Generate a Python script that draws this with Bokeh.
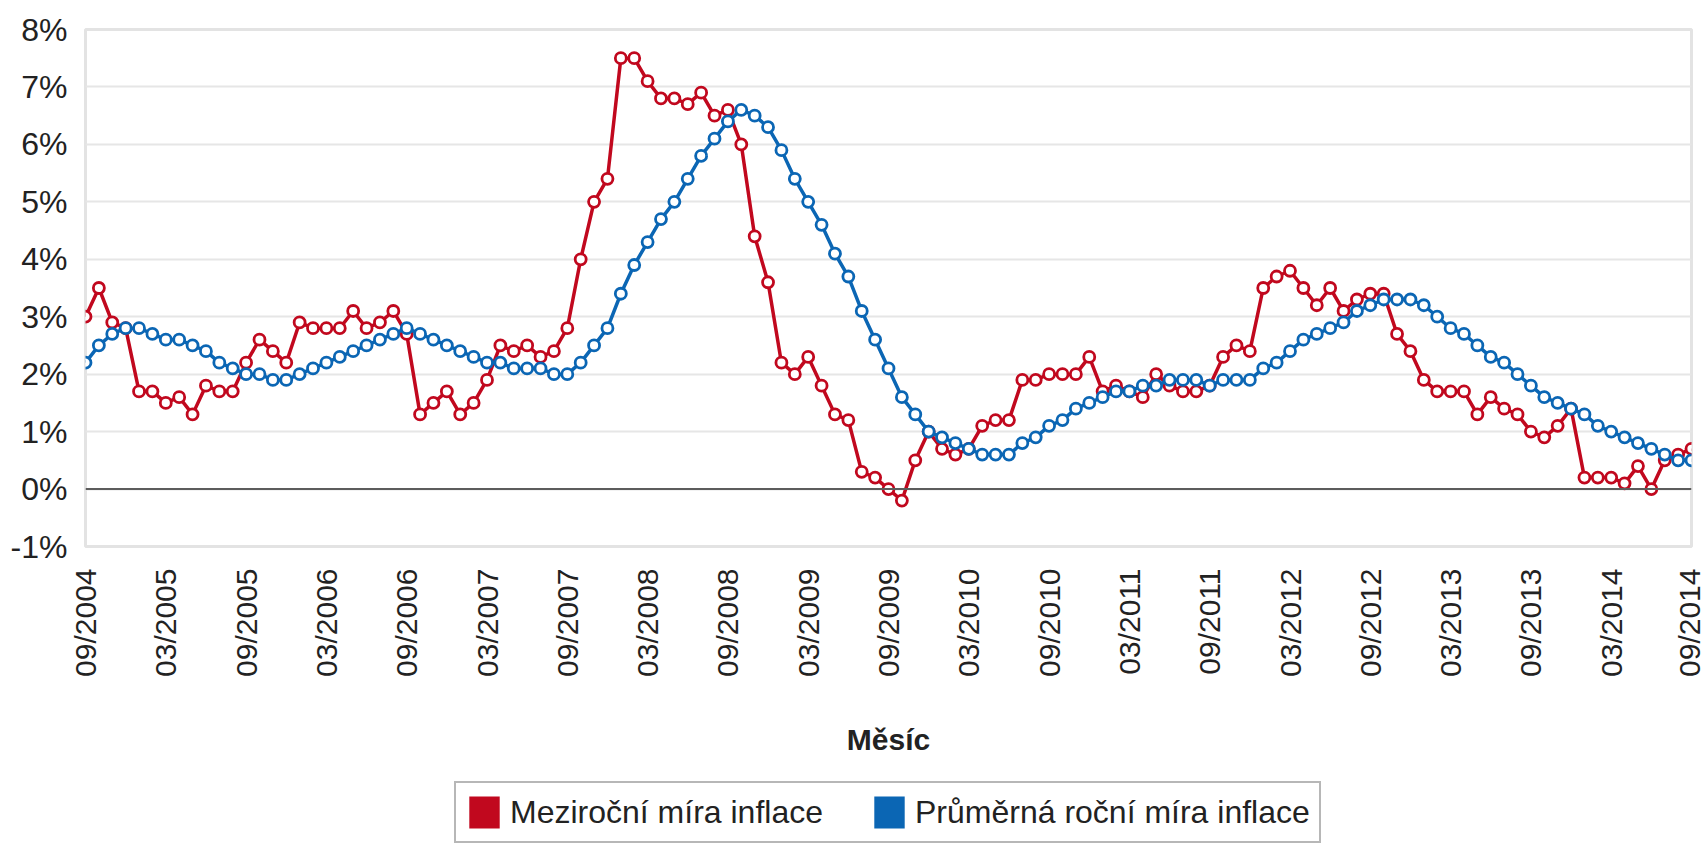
import math
from bokeh.plotting import figure
from bokeh.layouts import column
from bokeh.models import (Range1d, FixedTicker, PrintfTickFormatter, Span,
                          Legend, LegendItem, ColumnDataSource)
from bokeh.embed import file_html
from bokeh.resources import INLINE

# ---- data -------------------------------------------------------------
# monthly categories 09/2004 .. 09/2014
months = [f"{m:02d}/{y}" for y in range(2004, 2015) for m in range(1, 13)
          if (y, m) >= (2004, 9) and (y, m) <= (2014, 9)]

tick_labels = ["09/2004", "03/2005", "09/2005", "03/2006", "09/2006", "03/2007",
               "09/2007", "03/2008", "09/2008", "03/2009", "09/2009", "03/2010",
               "09/2010", "03/2011", "09/2011", "03/2012", "09/2012", "03/2013",
               "09/2013", "03/2014", "09/2014"]

# Meziroční míra inflace (year-on-year), %
yoy = [3.0, 3.5, 2.9, 2.8,
       1.7, 1.7, 1.5, 1.6, 1.3, 1.8, 1.7, 1.7, 2.2, 2.6, 2.4, 2.2,
       2.9, 2.8, 2.8, 2.8, 3.1, 2.8, 2.9, 3.1, 2.7, 1.3, 1.5, 1.7,
       1.3, 1.5, 1.9, 2.5, 2.4, 2.5, 2.3, 2.4, 2.8, 4.0, 5.0, 5.4,
       7.5, 7.5, 7.1, 6.8, 6.8, 6.7, 6.9, 6.5, 6.6, 6.0, 4.4, 3.6,
       2.2, 2.0, 2.3, 1.8, 1.3, 1.2, 0.3, 0.2, 0.0, -0.2, 0.5, 1.0,
       0.7, 0.6, 0.7, 1.1, 1.2, 1.2, 1.9, 1.9, 2.0, 2.0, 2.0, 2.3,
       1.7, 1.8, 1.7, 1.6, 2.0, 1.8, 1.7, 1.7, 1.8, 2.3, 2.5, 2.4,
       3.5, 3.7, 3.8, 3.5, 3.2, 3.5, 3.1, 3.3, 3.4, 3.4, 2.7, 2.4,
       1.9, 1.7, 1.7, 1.7, 1.3, 1.6, 1.4, 1.3, 1.0, 0.9, 1.1, 1.4,
       0.2, 0.2, 0.2, 0.1, 0.4, 0.0, 0.5, 0.6, 0.7]

# Průměrná roční míra inflace (12-month average), %
avg = [2.2, 2.5, 2.7, 2.8,
       2.8, 2.7, 2.6, 2.6, 2.5, 2.4, 2.2, 2.1, 2.0, 2.0, 1.9, 1.9,
       2.0, 2.1, 2.2, 2.3, 2.4, 2.5, 2.6, 2.7, 2.8, 2.7, 2.6, 2.5,
       2.4, 2.3, 2.2, 2.2, 2.1, 2.1, 2.1, 2.0, 2.0, 2.2, 2.5, 2.8,
       3.4, 3.9, 4.3, 4.7, 5.0, 5.4, 5.8, 6.1, 6.4, 6.6, 6.5, 6.3,
       5.9, 5.4, 5.0, 4.6, 4.1, 3.7, 3.1, 2.6, 2.1, 1.6, 1.3, 1.0,
       0.9, 0.8, 0.7, 0.6, 0.6, 0.6, 0.8, 0.9, 1.1, 1.2, 1.4, 1.5,
       1.6, 1.7, 1.7, 1.8, 1.8, 1.9, 1.9, 1.9, 1.8, 1.9, 1.9, 1.9,
       2.1, 2.2, 2.4, 2.6, 2.7, 2.8, 2.9, 3.1, 3.2, 3.3, 3.3, 3.3,
       3.2, 3.0, 2.8, 2.7, 2.5, 2.3, 2.2, 2.0, 1.8, 1.6, 1.5, 1.4,
       1.3, 1.1, 1.0, 0.9, 0.8, 0.7, 0.6, 0.5, 0.5]

series_names = ["Meziroční míra inflace", "Průměrná roční míra inflace"]
y_ticks = [-1, 0, 1, 2, 3, 4, 5, 6, 7, 8]

# ---- styling -----------------------------------------------------------
RED = "#c1081e"
BLUE = "#0b66b4"
FONT = "Liberation Sans"
TEXT = "#222222"
W = 1705

x_idx = list(range(len(months)))
src = ColumnDataSource(dict(x=x_idx, month=months, yoy=yoy, avg=avg))
tick_pos = [months.index(t) for t in tick_labels]

xr = Range1d(0, len(months) - 1)
yr = Range1d(y_ticks[0], y_ticks[-1])

p = figure(width=W, height=770, x_range=xr, y_range=yr,
           output_backend="svg", toolbar_location=None,
           min_border_left=85, min_border_right=W - 1691,
           min_border_top=29, min_border_bottom=224)

p.background_fill_color = "white"
p.border_fill_color = "white"
p.outline_line_color = "#e3e3e3"
p.outline_line_width = 3

p.xgrid.visible = False
p.ygrid.grid_line_color = "#e6e6e6"
p.ygrid.grid_line_width = 2

# axes
p.xaxis.ticker = FixedTicker(ticks=tick_pos)
p.xaxis.major_label_overrides = {pos: lab for pos, lab in zip(tick_pos, tick_labels)}
p.xaxis.major_label_orientation = math.pi / 2
p.xaxis.major_label_standoff = 16
p.xaxis.axis_label = "Měsíc"
p.xaxis.axis_label_text_font = FONT
p.xaxis.axis_label_text_font_style = "bold"
p.xaxis.axis_label_text_font_size = "30px"
p.xaxis.axis_label_text_color = TEXT
p.xaxis.axis_label_standoff = 43

p.yaxis.ticker = FixedTicker(ticks=y_ticks)
p.yaxis.formatter = PrintfTickFormatter(format="%d%%")
p.yaxis.major_label_standoff = 12

for ax in (p.xaxis, p.yaxis):
    ax.axis_line_color = None
    ax.major_tick_line_color = None
    ax.minor_tick_line_color = None
    ax.major_label_text_font = FONT
    ax.major_label_text_color = TEXT
p.yaxis.major_label_text_font_size = "32px"
p.xaxis.major_label_text_font_size = "30px"

p.add_layout(Span(location=0, dimension="width", line_color="#5c5c5c", line_width=2))

# series
p.line("x", "yoy", source=src, line_color=RED, line_width=3.5)
p.scatter("x", "yoy", source=src, marker="circle", size=11,
          fill_color="white", line_color=RED, line_width=2.8)
p.line("x", "avg", source=src, line_color=BLUE, line_width=3.5)
p.scatter("x", "avg", source=src, marker="circle", size=11,
          fill_color="white", line_color=BLUE, line_width=2.8)

# ---- legend strip below the chart ------------------------------------
leg = figure(width=W, height=74, x_range=xr, y_range=yr,
             output_backend="svg", toolbar_location=None,
             x_axis_location=None, y_axis_location=None, min_border=0)
leg.grid.visible = False
leg.outline_line_color = None
leg.background_fill_color = "white"
leg.border_fill_color = "white"

# zero-area quads on the data: only their legend swatch is visible
sw_red = leg.quad(left="x", right="x", top="yoy", bottom="yoy", source=src,
                  fill_color=RED, line_color=None)
sw_blue = leg.quad(left="x", right="x", top="avg", bottom="avg", source=src,
                   fill_color=BLUE, line_color=None)

legend = Legend(items=[LegendItem(label=series_names[0], renderers=[sw_red]),
                       LegendItem(label=series_names[1], renderers=[sw_blue])],
                orientation="horizontal", location=(369, 1))
legend.glyph_width = 38
legend.glyph_height = 40
legend.label_standoff = 7
legend.spacing = 47
legend.padding = 9
legend.margin = 0
legend.border_line_color = "#707070"
legend.border_line_width = 2
legend.background_fill_color = "white"
legend.label_text_font = FONT
legend.label_text_font_size = "32px"
legend.label_text_color = TEXT
leg.add_layout(legend, "center")

layout = column(p, leg, spacing=0)
open("out.html", "w").write(file_html(layout, INLINE))
